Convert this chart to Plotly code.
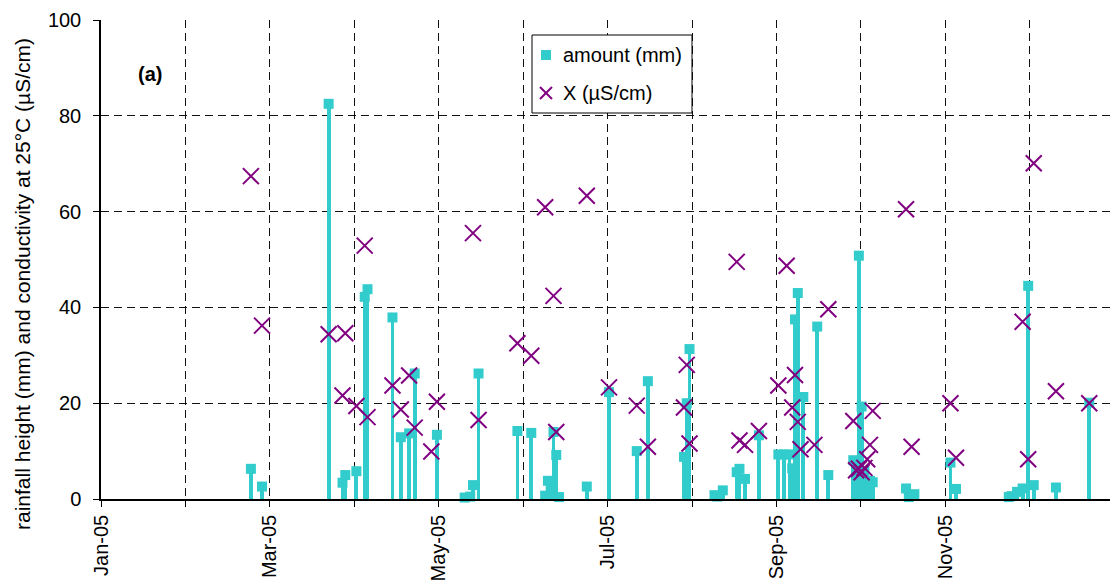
import pandas as pd
import plotly.graph_objects as go

# Rain events: sampling date and rainfall amount (mm)
rain_dates = [
    "2005-02-24", "2005-02-28", "2005-03-24", "2005-03-29", "2005-03-30",
    "2005-04-03", "2005-04-06", "2005-04-07", "2005-04-16", "2005-04-19",
    "2005-04-22", "2005-04-24", "2005-05-02", "2005-05-12", "2005-05-14",
    "2005-05-15", "2005-05-17", "2005-05-31", "2005-06-05", "2005-06-10",
    "2005-06-11", "2005-06-12", "2005-06-13", "2005-06-14", "2005-06-15",
    "2005-06-25", "2005-07-03", "2005-07-13", "2005-07-17", "2005-07-30",
    "2005-07-31", "2005-08-01", "2005-08-10", "2005-08-11", "2005-08-13",
    "2005-08-18", "2005-08-19", "2005-08-21", "2005-08-26", "2005-09-02",
    "2005-09-04", "2005-09-06", "2005-09-07", "2005-09-08", "2005-09-09",
    "2005-09-11", "2005-09-16", "2005-09-20", "2005-09-29", "2005-09-30",
    "2005-10-01", "2005-10-02", "2005-10-03", "2005-10-04", "2005-10-05",
    "2005-10-06", "2005-10-18", "2005-10-19", "2005-10-21", "2005-11-03",
    "2005-11-05", "2005-11-24", "2005-11-25", "2005-11-27", "2005-11-29",
    "2005-12-01", "2005-12-03", "2005-12-11", "2005-12-23",
]
rain_mm = [
    6.3, 2.6, 82.5, 3.4, 5.0,
    5.8, 42.2, 43.8, 37.9, 12.9,
    13.7, 26.2, 13.4, 0.3, 0.5,
    2.9, 26.2, 14.2, 13.8, 0.7,
    3.8, 2.1, 14.0, 9.2, 0.4,
    2.6, 22.3, 10.0, 24.6, 8.8,
    20.0, 31.3, 0.8, 0.5, 1.8,
    5.6, 6.3, 4.2, 13.3, 9.3,
    9.3, 9.3, 6.4, 37.5, 43.0,
    21.3, 36.0, 5.0, 8.1, 6.0,
    50.8, 19.3, 5.8, 2.5, 3.8,
    3.5, 2.2, 0.4, 1.0, 7.6,
    2.1, 0.4, 0.6, 1.5, 2.2,
    44.5, 2.9, 2.4, 20.1,
]

# Electrical conductivity of the samples (uS/cm at 25 C)
cond_dates = [
    "2005-02-24", "2005-02-28", "2005-03-24", "2005-03-29", "2005-03-30",
    "2005-04-03", "2005-04-06", "2005-04-07", "2005-04-16", "2005-04-19",
    "2005-04-22", "2005-04-24", "2005-04-30", "2005-05-02", "2005-05-15",
    "2005-05-17", "2005-05-31", "2005-06-05", "2005-06-10", "2005-06-13",
    "2005-06-14", "2005-06-25", "2005-07-03", "2005-07-13", "2005-07-17",
    "2005-07-30", "2005-07-31", "2005-08-01", "2005-08-18", "2005-08-19",
    "2005-08-21", "2005-08-26", "2005-09-02", "2005-09-05", "2005-09-07",
    "2005-09-08", "2005-09-09", "2005-09-10", "2005-09-15", "2005-09-20",
    "2005-09-29", "2005-09-30", "2005-10-01", "2005-10-02", "2005-10-03",
    "2005-10-04", "2005-10-05", "2005-10-06", "2005-10-18", "2005-10-20",
    "2005-11-03", "2005-11-05", "2005-11-29", "2005-12-01", "2005-12-03",
    "2005-12-11", "2005-12-23",
]
cond_us = [
    67.4, 36.2, 34.4, 21.6, 34.6,
    19.4, 52.9, 17.1, 23.7, 18.7,
    25.8, 14.9, 9.9, 20.3, 55.5,
    16.5, 32.5, 29.9, 60.9, 42.4,
    14.0, 63.3, 23.3, 19.5, 10.9,
    19.1, 28.0, 11.6, 49.5, 12.2,
    11.3, 14.2, 23.7, 48.7, 19.1,
    25.9, 16.1, 10.4, 11.3, 39.6,
    16.3, 6.0, 6.3, 5.6, 6.5,
    8.3, 11.3, 18.4, 60.5, 10.9,
    20.0, 8.6, 37.0, 8.3, 70.1,
    22.5, 20.0,
]

# Month gridlines (equal twelfths of the year) and their labels
tick_labels = ["Jan-05", "", "Mar-05", "", "May-05", "", "Jul-05", "",
               "Sep-05", "", "Nov-05", ""]
y_ticks = [0, 20, 40, 60, 80, 100]

TEAL = "#33CCCC"
PURPLE = "#800080"
FONT = "Liberation Sans, Arial, sans-serif"

W, H = 1110, 587
ML, MR, MT, MB = 101, 0, 20, 88
PW, PH = W - ML - MR, H - MT - MB

start = pd.Timestamp("2005-01-01")
px_per_day = 2.776
x_end = start + pd.Timedelta(days=PW / px_per_day)
tick_vals = [start + pd.Timedelta(days=k * 365 / 12) for k in range(len(tick_labels))]
stem_ms = 3.8 / px_per_day * 86400000


def pxx(x):
    return (x - ML) / PW


def pxy(y):
    return (H - MB - y) / PH


fig = go.Figure()
fig.add_trace(go.Bar(
    x=rain_dates, y=rain_mm, width=stem_ms,
    marker=dict(color=TEAL, line=dict(width=0)),
    showlegend=False, hoverinfo="skip",
))
fig.add_trace(go.Scatter(
    x=rain_dates, y=rain_mm, mode="markers", name="amount (mm)",
    marker=dict(symbol="square", size=10, color=TEAL, line=dict(width=0)),
    cliponaxis=False, showlegend=False,
))
fig.add_trace(go.Scatter(
    x=cond_dates, y=cond_us, mode="markers", name="X (µS/cm)",
    marker=dict(symbol="x-thin", size=16, color=PURPLE,
                line=dict(width=2, color=PURPLE)),
    cliponaxis=False, showlegend=False,
))

grid = dict(showgrid=True, gridcolor="#111111", gridwidth=1, griddash="8px,5px")

fig.update_layout(
    width=W, height=H,
    margin=dict(l=ML, r=MR, t=MT, b=MB),
    paper_bgcolor="white", plot_bgcolor="white",
    font=dict(family=FONT, size=20, color="black"),
    bargap=0,
    xaxis=dict(
        type="date", range=[start, x_end],
        tickmode="array", tickvals=tick_vals, ticktext=tick_labels,
        tickangle=-90, ticks="outside", ticklen=6, tickcolor="black",
        tickfont=dict(size=20), showline=True, linecolor="black", linewidth=1.5,
        zeroline=False, **grid,
    ),
    yaxis=dict(
        range=[0, 100], tickmode="array", tickvals=y_ticks,
        ticks="outside", ticklen=6, tickcolor="black", tickfont=dict(size=20),
        showline=True, linecolor="black", linewidth=1.5, zeroline=False,
        ticklabelstandoff=8, **grid,
    ),
)

annotations = [
    dict(text="rainfall height (mm) and conductivity at 25°C (µS/cm)",
         x=pxx(22), y=pxy(284), xref="paper", yref="paper", textangle=-90,
         showarrow=False, font=dict(size=21), xanchor="center", yanchor="middle"),
    dict(text="<b>(a)</b>", x=pxx(150), y=pxy(74), xref="paper", yref="paper",
         showarrow=False, font=dict(size=20), xanchor="center", yanchor="middle"),
    dict(text="amount (mm)", x=pxx(561), y=pxy(55), xref="paper", yref="paper",
         showarrow=False, font=dict(size=20), xanchor="left", yanchor="middle"),
    dict(text="X (µS/cm)", x=pxx(561), y=pxy(93), xref="paper", yref="paper",
         showarrow=False, font=dict(size=20), xanchor="left", yanchor="middle"),
]

shapes = [
    dict(type="rect", xref="paper", yref="paper",
         x0=pxx(532), x1=pxx(692), y0=pxy(113), y1=pxy(35),
         line=dict(color="black", width=1), fillcolor="white", layer="above"),
    dict(type="rect", xref="paper", yref="paper",
         x0=pxx(541), x1=pxx(551), y0=pxy(60), y1=pxy(50),
         line=dict(width=0), fillcolor=TEAL, layer="above"),
    dict(type="line", xref="paper", yref="paper",
         x0=pxx(540), x1=pxx(552), y0=pxy(87), y1=pxy(99),
         line=dict(color=PURPLE, width=2), layer="above"),
    dict(type="line", xref="paper", yref="paper",
         x0=pxx(540), x1=pxx(552), y0=pxy(99), y1=pxy(87),
         line=dict(color=PURPLE, width=2), layer="above"),
]

fig.update_layout(annotations=annotations, shapes=shapes)
fig.write_html("out.html")
